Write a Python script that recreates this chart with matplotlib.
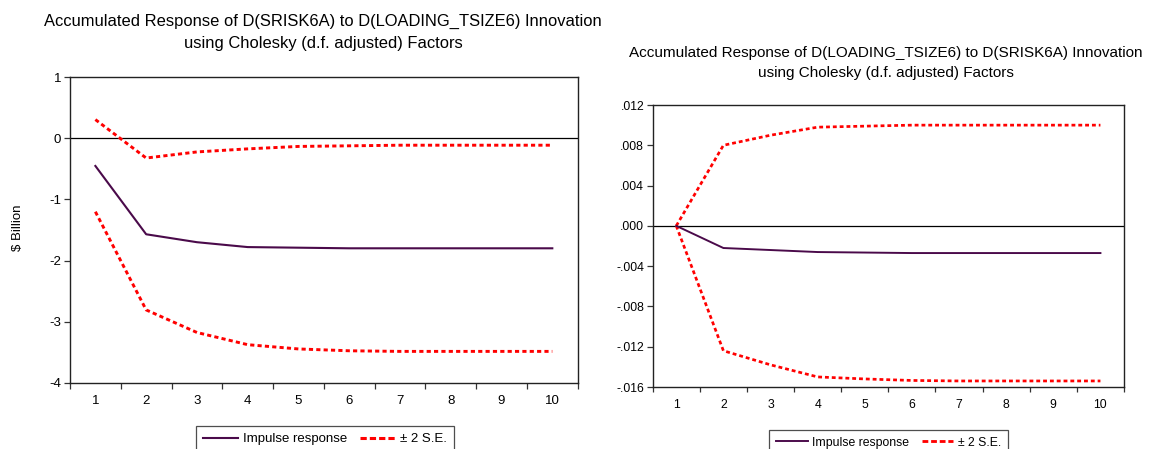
import matplotlib
matplotlib.use("Agg")
import matplotlib.pyplot as plt
from matplotlib.lines import Line2D
from matplotlib.ticker import FixedLocator

plt.rcParams['font.family'] = ['Liberation Sans', 'DejaVu Sans']
plt.rcParams['lines.scale_dashes'] = False

periods = [1, 2, 3, 4, 5, 6, 7, 8, 9, 10]
period_labels = ["1", "2", "3", "4", "5", "6", "7", "8", "9", "10"]

# Left panel: Accumulated response of D(SRISK6A) to D(LOADING_TSIZE6)
left_impulse = [-0.45, -1.57, -1.70, -1.78, -1.79, -1.80, -1.80, -1.80, -1.80, -1.80]
left_upper = [0.31, -0.32, -0.22, -0.17, -0.13, -0.12, -0.11, -0.11, -0.11, -0.11]
left_lower = [-1.20, -2.81, -3.18, -3.38, -3.45, -3.48, -3.49, -3.49, -3.49, -3.49]
left_yticks = [1, 0, -1, -2, -3, -4]
left_ylabels = ["1", "0", "-1", "-2", "-3", "-4"]

# Right panel: Accumulated response of D(LOADING_TSIZE6) to D(SRISK6A)
right_impulse = [0.0, -0.0022, -0.0024, -0.0026, -0.00265, -0.0027, -0.0027, -0.0027, -0.0027, -0.0027]
right_upper = [0.0, 0.0080, 0.0090, 0.0098, 0.0099, 0.0100, 0.0100, 0.0100, 0.0100, 0.0100]
right_lower = [0.0, -0.0124, -0.0138, -0.0150, -0.0152, -0.01535, -0.0154, -0.0154, -0.0154, -0.0154]
right_yticks = [0.012, 0.008, 0.004, 0.0, -0.004, -0.008, -0.012, -0.016]
right_ylabels = [".012", ".008", ".004", ".000", "-.004", "-.008", "-.012", "-.016"]

left_title = ["Accumulated Response of D(SRISK6A) to D(LOADING_TSIZE6) Innovation",
              "using Cholesky (d.f. adjusted) Factors"]
right_title = ["Accumulated Response of D(LOADING_TSIZE6) to D(SRISK6A) Innovation",
               "using Cholesky (d.f. adjusted) Factors"]
legend_labels = ["Impulse response", "\u00b1 2 S.E."]

W, H = 1150, 449
fig = plt.figure(figsize=(W / 100, H / 100), dpi=100)

PURPLE = "#4a0a4a"
RED = "#ff0000"


def px_axes(x0, y0, x1, y1):
    return fig.add_axes([x0 / W, 1 - y1 / H, (x1 - x0) / W, (y1 - y0) / H])


def draw_panel(ax, imp, up, lo, yticks, ylabels, ylim, fs, k):
    ax.axhline(0, color="black", lw=0.9, zorder=1)
    ax.plot(periods, imp, color=PURPLE, lw=1.5 * k, zorder=3)
    for s in (up, lo):
        ax.plot(periods, s, color=RED, lw=2.1 * k, dashes=(3.0 * k, 2.3 * k), zorder=2)
    ax.set_xlim(0.5, 10.5)
    ax.set_ylim(*ylim)
    ax.xaxis.set_major_locator(FixedLocator(periods))
    ax.set_xticklabels(period_labels)
    ax.xaxis.set_minor_locator(FixedLocator([p - 0.5 for p in periods] + [10.5]))
    ax.tick_params(axis="x", which="major", length=0, pad=9 * k, labelsize=fs)
    ax.tick_params(axis="x", which="minor", length=4 * k, width=0.9, direction="out", color="#333333")
    ax.set_yticks(yticks)
    ax.set_yticklabels(ylabels)
    ax.tick_params(axis="y", length=4.5 * k, width=0.9, direction="out", labelsize=fs, pad=2, color="#333333")
    for sp in ax.spines.values():
        sp.set_color("#222222")
        sp.set_linewidth(1.0)


FS_L = 9.5
FS_R = 8.8
K_R = FS_R / FS_L

axL = px_axes(70, 77.5, 577.7, 382.5)
draw_panel(axL, left_impulse, left_upper, left_lower, left_yticks, left_ylabels, (-4, 1), FS_L, 1.0)
fig.text(18 / W, 1 - 228 / H, r"\$ Billion", rotation=90, ha="center", va="center", fontsize=FS_L)

axR = px_axes(652.7, 105, 1124, 387)
draw_panel(axR, right_impulse, right_upper, right_lower, right_yticks, right_ylabels, (-0.016, 0.012), FS_R, K_R)

TFS_L = 11.9
TFS_R = 11.0
fig.text(323 / W, 1 - 21.7 / H, left_title[0], ha="center", va="center", fontsize=TFS_L)
fig.text(323 / W, 1 - 43.3 / H, left_title[1], ha="center", va="center", fontsize=TFS_L)
fig.text(886 / W, 1 - 53.3 / H, right_title[0], ha="center", va="center", fontsize=TFS_R)
fig.text(886 / W, 1 - 73.3 / H, right_title[1], ha="center", va="center", fontsize=TFS_R)


def add_legend(x, y, fs, k):
    handles = [Line2D([], [], color=PURPLE, lw=1.5 * k),
               Line2D([], [], color=RED, lw=2.2 * k, dashes=(4.5 * k, 2.2 * k))]
    leg = fig.legend(handles, legend_labels, loc="upper left",
                     bbox_to_anchor=(x / W, 1 - y / H), ncol=2, fontsize=fs,
                     frameon=True, fancybox=False, edgecolor="#222222",
                     handlelength=2.6, handletextpad=0.4, columnspacing=1.0,
                     borderpad=0.55, borderaxespad=0)
    leg.get_frame().set_linewidth(0.9)
    return leg


add_legend(196, 426, FS_L, 1.0)
add_legend(769, 430, FS_R, K_R)

fig.savefig("out.png", dpi=100)
